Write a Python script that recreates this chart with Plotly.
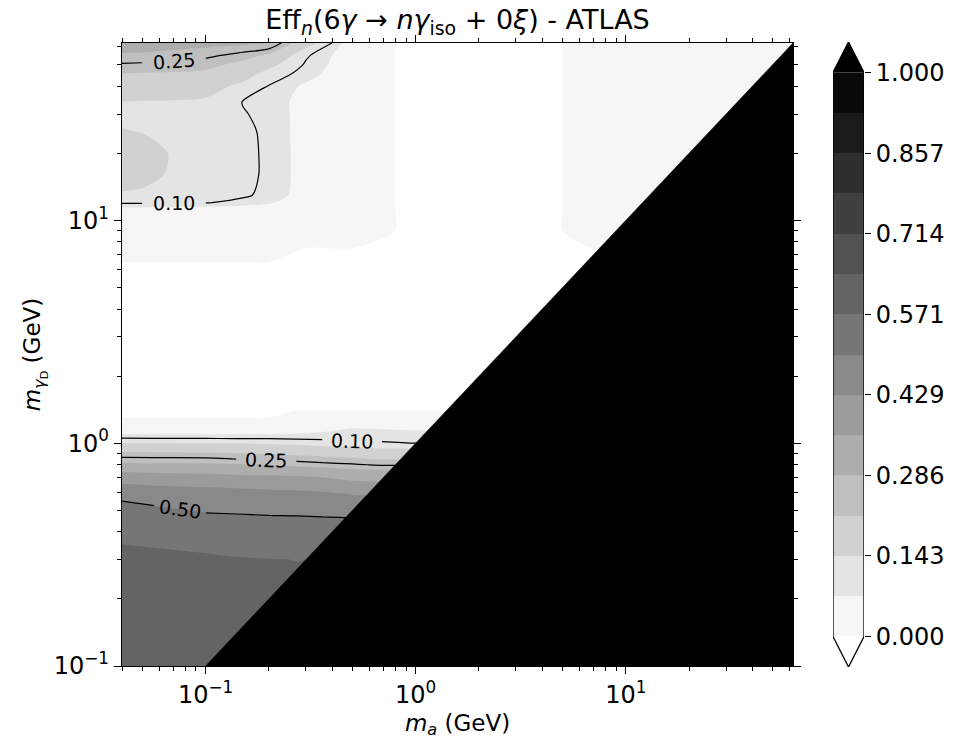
import math
import plotly.graph_objects as go

# ---------------- data ----------------
MA_LIMITS = [0.04, 62.5]      # m_a axis extent (GeV)
MGD_LIMITS = [0.1, 62.5]      # m_gammaD axis extent (GeV)
KIN_BOUNDARY = [0.1, 62.5]    # m_gammaD = m_a boundary (start, end)

LEVEL_START, LEVEL_END, N_BANDS = 0.0, 1.0, 14
LINE_LEVELS = [0.10, 0.25, 0.50]
CBAR_TICKS = [0.0, 0.143, 0.286, 0.429, 0.571, 0.714, 0.857, 1.0]

# low-mass region (m_gammaD <= 1.6 GeV)
MA_LOW = [0.04, 0.057, 0.1, 0.14, 0.2, 0.27, 0.36, 0.5, 0.69, 1.0, 2.0]
MGD_LOW = [0.1, 0.2, 0.3, 0.35, 0.4, 0.45, 0.5, 0.55, 0.6, 0.65, 0.7, 0.75,
           0.8, 0.85, 0.9, 0.95, 1.0, 1.05, 1.1, 1.2, 1.3, 1.4, 1.6]
# efficiency columns, one list per m_a value (ordered like MGD_LOW)
EFF_LOW_COLS = [
    [0.60, 0.60, 0.59, 0.572, 0.555, 0.535, 0.52, 0.50, 0.47, 0.435, 0.395, 0.35, 0.30, 0.26, 0.225, 0.19, 0.145, 0.102, 0.07, 0.03, 0, 0, 0],
    [0.60, 0.60, 0.585, 0.568, 0.55, 0.53, 0.51, 0.49, 0.46, 0.425, 0.385, 0.345, 0.295, 0.258, 0.222, 0.185, 0.142, 0.101, 0.07, 0.03, 0, 0, 0],
    [0.60, 0.595, 0.58, 0.56, 0.54, 0.515, 0.495, 0.475, 0.45, 0.42, 0.38, 0.34, 0.295, 0.257, 0.22, 0.183, 0.14, 0.10, 0.07, 0.03, 0, 0, 0],
    [0.60, 0.59, 0.575, 0.555, 0.535, 0.512, 0.493, 0.47, 0.445, 0.415, 0.375, 0.335, 0.29, 0.249, 0.215, 0.18, 0.14, 0.099, 0.07, 0.03, 0, 0, 0],
    [0.60, 0.585, 0.573, 0.55, 0.53, 0.51, 0.49, 0.465, 0.44, 0.41, 0.37, 0.33, 0.285, 0.245, 0.21, 0.178, 0.135, 0.098, 0.068, 0.03, 0, 0, 0],
    [0.60, 0.58, 0.571, 0.549, 0.529, 0.509, 0.489, 0.463, 0.438, 0.407, 0.367, 0.327, 0.272, 0.235, 0.203, 0.169, 0.128, 0.095, 0.073, 0.037, 0.005, 0, 0],
    [0.60, 0.585, 0.572, 0.55, 0.528, 0.507, 0.487, 0.46, 0.432, 0.398, 0.358, 0.318, 0.262, 0.228, 0.197, 0.16, 0.12, 0.094, 0.078, 0.048, 0.013, 0, 0],
    [0.60, 0.60, 0.575, 0.555, 0.53, 0.505, 0.485, 0.455, 0.42, 0.38, 0.34, 0.30, 0.255, 0.22, 0.19, 0.15, 0.11, 0.095, 0.085, 0.065, 0.02, 0, 0],
    [0.60, 0.60, 0.57, 0.55, 0.525, 0.50, 0.48, 0.45, 0.415, 0.375, 0.335, 0.295, 0.245, 0.21, 0.18, 0.14, 0.105, 0.09, 0.08, 0.065, 0.025, 0, 0],
    [0.60, 0.60, 0.57, 0.55, 0.525, 0.50, 0.48, 0.45, 0.415, 0.375, 0.335, 0.295, 0.245, 0.21, 0.18, 0.14, 0.10, 0.09, 0.08, 0.06, 0.02, 0, 0],
    [0.60, 0.60, 0.57, 0.55, 0.525, 0.50, 0.48, 0.45, 0.415, 0.375, 0.335, 0.295, 0.245, 0.21, 0.18, 0.14, 0.10, 0.09, 0.08, 0.06, 0.02, 0, 0],
]

# high-mass region (m_gammaD >= 1.6 GeV)
MA_HIGH = [0.04, 0.05, 0.1, 0.15, 0.2, 0.3, 0.5, 0.8, 5.0, 7.0, 10.0, 20.0, 62.5]
MGD_HIGH = [1.6, 5, 6.5, 7.5, 9, 11, 11.5, 12, 13, 16, 20, 25, 30, 34, 40, 45, 50, 55, 62.5]
EFF_HIGH_COLS = [
    [0, 0, 0, 0.025, 0.035, 0.05, 0.075, 0.105, 0.14, 0.155, 0.16, 0.145, 0.135, 0.142, 0.18, 0.21, 0.245, 0.28, 0.31],
    [0, 0, 0, 0.025, 0.035, 0.05, 0.075, 0.105, 0.138, 0.152, 0.155, 0.142, 0.132, 0.14, 0.178, 0.207, 0.243, 0.278, 0.308],
    [0, 0, 0, 0.025, 0.035, 0.05, 0.07, 0.102, 0.12, 0.125, 0.125, 0.125, 0.125, 0.135, 0.165, 0.20, 0.23, 0.26, 0.30],
    [0, 0, 0, 0.025, 0.035, 0.05, 0.065, 0.09, 0.106, 0.108, 0.108, 0.107, 0.102, 0.099, 0.13, 0.165, 0.20, 0.235, 0.295],
    [0, 0, 0, 0.025, 0.035, 0.05, 0.06, 0.075, 0.09, 0.095, 0.095, 0.094, 0.093, 0.092, 0.098, 0.12, 0.16, 0.205, 0.29],
    [0, 0, 0, 0, 0.025, 0.04, 0.045, 0.05, 0.055, 0.055, 0.055, 0.055, 0.055, 0.055, 0.065, 0.085, 0.095, 0.106, 0.17],
    [0, 0, 0, 0, 0.02, 0.035, 0.035, 0.04, 0.04, 0.04, 0.04, 0.04, 0.04, 0.04, 0.04, 0.04, 0.045, 0.045, 0.045],
    [0, 0, 0, 0, 0, 0, 0, 0, 0, 0, 0, 0, 0, 0, 0, 0, 0, 0, 0],
    [0, 0, 0, 0, 0, 0, 0, 0, 0, 0, 0, 0, 0, 0, 0, 0, 0, 0, 0],
    [0, 0, 0, 0, 0.03, 0.03, 0.03, 0.03, 0.03, 0.03, 0.03, 0.03, 0.03, 0.03, 0.03, 0.03, 0.03, 0.03, 0.03],
    [0, 0, 0, 0, 0.03, 0.03, 0.03, 0.03, 0.03, 0.03, 0.03, 0.03, 0.03, 0.03, 0.03, 0.03, 0.03, 0.03, 0.03],
    [0, 0, 0, 0, 0.03, 0.03, 0.03, 0.03, 0.03, 0.03, 0.03, 0.03, 0.03, 0.03, 0.03, 0.03, 0.03, 0.03, 0.03],
    [0, 0, 0, 0, 0.03, 0.03, 0.03, 0.03, 0.03, 0.03, 0.03, 0.03, 0.03, 0.03, 0.03, 0.03, 0.03, 0.03, 0.03],
]

# inline contour labels: (grid, level, m_a at gap start, m_a at gap end)
LINE_LABELS = [
    ("low", 0.50, 0.057, 0.1),
    ("low", 0.25, 0.14, 0.27),
    ("low", 0.10, 0.36, 0.69),
    ("high", 0.25, 0.05, 0.1),
    ("high", 0.10, 0.05, 0.1),
]

# ---------------- styling / layout constants ----------------
FONT = "DejaVu Sans"
TICK_SIZE = 24
W, H = 956, 742
ML, MR, MT, MB = 122, 92, 42, 75
PLOT_W, PLOT_H = W - ML - MR, H - MT - MB
AX_X_PX = (122, 793)
AX_Y_PX = (43, 666)
CB_X_PX = (833, 864)

BAND = (LEVEL_END - LEVEL_START) / N_BANDS
band_mid = [LEVEL_START + (k + 0.5) * BAND for k in range(N_BANDS)]
band_edges = [LEVEL_START + k * BAND for k in range(N_BANDS + 1)]


def grey(v):
    g = max(0, min(255, round(255 * (1 - v))))
    return f"rgb({g},{g},{g})"


COLORSCALE = ([[0.0, grey(0.0)]]
              + [[(k + 1) / (N_BANDS + 1), grey(m)] for k, m in enumerate(band_mid)]
              + [[1.0, grey(1.0)]])


def rows_from_cols(cols):
    return [list(r) for r in zip(*cols)]


GRIDS = {
    "low": (MA_LOW, MGD_LOW, EFF_LOW_COLS),
    "high": (MA_HIGH, MGD_HIGH, EFF_HIGH_COLS),
}

fig = go.Figure()

# filled bands
for key in ("low", "high"):
    xs, ys, cols = GRIDS[key]
    fig.add_trace(go.Contour(
        x=xs, y=ys, z=rows_from_cols(cols), autocontour=False,
        contours=dict(start=LEVEL_START, end=LEVEL_END, size=BAND,
                      coloring="fill", showlines=False),
        colorscale=COLORSCALE, showscale=False,
        line=dict(width=0, smoothing=0.8), hoverinfo="skip"))


def line_piece(xs, ys, cols, level):
    return go.Contour(
        x=xs, y=ys, z=rows_from_cols(cols), autocontour=False,
        contours=dict(start=level, end=level, size=1, coloring="none"),
        line=dict(color="black", width=1.2, smoothing=0.8),
        showscale=False, hoverinfo="skip")


def crossing(ys, vals, level):
    for j in range(len(ys) - 1):
        a, b = vals[j], vals[j + 1]
        if (a - level) * (b - level) <= 0 and a != b:
            t = (level - a) / (b - a)
            return ys[j] + t * (ys[j + 1] - ys[j])
    return ys[0]


log_span_x = math.log10(MA_LIMITS[1]) - math.log10(MA_LIMITS[0])
log_span_y = math.log10(MGD_LIMITS[1]) - math.log10(MGD_LIMITS[0])
px_dec_x = (AX_X_PX[1] - AX_X_PX[0]) / log_span_x
px_dec_y = (AX_Y_PX[1] - AX_Y_PX[0]) / log_span_y

annotations = []
for key, level, g0, g1 in LINE_LABELS:
    xs, ys, cols = GRIDS[key]
    i0, i1 = xs.index(g0), xs.index(g1)
    fig.add_trace(line_piece(xs[:i0 + 1], ys, cols[:i0 + 1], level))
    fig.add_trace(line_piece(xs[i1:], ys, cols[i1:], level))
    y0 = crossing(ys, cols[i0], level)
    y1 = crossing(ys, cols[i1], level)
    lx = (math.log10(g0) + math.log10(g1)) / 2
    ly = (math.log10(y0) + math.log10(y1)) / 2
    dx = (math.log10(g1) - math.log10(g0)) * px_dec_x
    dy = (math.log10(y1) - math.log10(y0)) * px_dec_y
    ang = -math.degrees(math.atan2(dy, dx))
    annotations.append(dict(
        x=lx, y=ly, xref="x", yref="y", text=f"{level:.2f}", showarrow=False,
        textangle=ang, font=dict(family=FONT, size=19, color="black"),
        xanchor="center", yanchor="middle"))

# kinematically excluded triangle (black)
fig.add_trace(go.Scatter(
    x=[KIN_BOUNDARY[0], KIN_BOUNDARY[1], MA_LIMITS[1], KIN_BOUNDARY[0]],
    y=[KIN_BOUNDARY[0], KIN_BOUNDARY[1], MGD_LIMITS[0], KIN_BOUNDARY[0]],
    mode="lines", fill="toself", fillcolor="black",
    line=dict(color="black", width=0.5), hoverinfo="skip", showlegend=False))

# ---------------- manual colourbar ----------------
CB_LEN = (AX_Y_PX[1] - 29) - (AX_Y_PX[0] + 30)
EXT = ((PLOT_H / CB_LEN) - 1) / 2
fig.add_trace(go.Heatmap(
    x=[0, 1], y=band_edges, z=[[m] for m in band_mid],
    colorscale=COLORSCALE, zmin=LEVEL_START - BAND / 2, zmax=LEVEL_END + BAND / 2,
    showscale=False, xaxis="x2", yaxis="y2", hoverinfo="skip"))
fig.add_trace(go.Scatter(
    x=[0, 0.5, 1, 0], y=[LEVEL_END, LEVEL_END + EXT, LEVEL_END, LEVEL_END],
    mode="lines", fill="toself", fillcolor=grey(1.0), line=dict(width=0),
    xaxis="x2", yaxis="y2", hoverinfo="skip", showlegend=False))
fig.add_trace(go.Scatter(
    x=[0, 0, 0.5, 1, 1, 0.5, 0],
    y=[LEVEL_START, LEVEL_END, LEVEL_END + EXT, LEVEL_END, LEVEL_START,
       LEVEL_START - EXT, LEVEL_START],
    mode="lines", line=dict(color="black", width=1.3),
    xaxis="x2", yaxis="y2", hoverinfo="skip", showlegend=False))


# ---------------- axes ----------------
def decade_minor(lo, hi):
    vals = []
    for e in range(math.floor(math.log10(lo)), math.ceil(math.log10(hi)) + 1):
        for m in range(2, 10):
            v = m * 10 ** e
            if lo <= v <= hi:
                vals.append(v)
    return vals


MAJOR = [0.1, 1, 10]
MAJOR_TXT = ["10<sup>\u22121</sup>", "10<sup>0</sup>", "10<sup>1</sup>"]

axis_common = dict(
    type="log", tickvals=MAJOR, ticktext=MAJOR_TXT, ticks="outside",
    ticklen=7, tickwidth=1.2, tickcolor="black", showline=True,
    linecolor="black", linewidth=1.3, mirror="allticks", showgrid=False,
    zeroline=False, tickfont=dict(family=FONT, size=TICK_SIZE, color="black"))

X_END = (AX_X_PX[1] - ML) / PLOT_W
fig.update_layout(
    width=W, height=H,
    margin=dict(l=ML, r=MR, t=MT, b=MB),
    paper_bgcolor="white", plot_bgcolor="white",
    showlegend=False,
    font=dict(family=FONT, color="black"),
    annotations=annotations,
    title=dict(
        text="Eff<sub><i>n</i></sub>(6<i>\u03b3</i> \u2192 <i>n\u03b3</i><sub>iso</sub> + 0<i>\u03be</i>) - ATLAS",
        x=X_END / 2, xref="paper", xanchor="center",
        y=1 - 20 / H, yref="container", yanchor="middle",
        font=dict(family=FONT, size=27, color="black")),
    xaxis=dict(
        axis_common, domain=[0, X_END],
        range=[math.log10(MA_LIMITS[0]), math.log10(MA_LIMITS[1])],
        minor=dict(tickvals=decade_minor(*MA_LIMITS), ticks="outside",
                   ticklen=4, tickwidth=1, tickcolor="black"),
        title=dict(text="<i>m</i><sub><i>a</i></sub> (GeV)", standoff=6,
                   font=dict(family=FONT, size=23, color="black"))),
    yaxis=dict(
        axis_common,
        domain=[(H - MB - AX_Y_PX[1]) / PLOT_H, (H - MB - AX_Y_PX[0]) / PLOT_H],
        range=[math.log10(MGD_LIMITS[0]), math.log10(MGD_LIMITS[1])],
        minor=dict(tickvals=decade_minor(*MGD_LIMITS), ticks="outside",
                   ticklen=4, tickwidth=1, tickcolor="black"),
        title=dict(text="<i>m</i><sub><i>\u03b3</i><sub>D</sub></sub> (GeV)", standoff=6,
                   font=dict(family=FONT, size=23, color="black"))),
    xaxis2=dict(domain=[(CB_X_PX[0] - ML) / PLOT_W, (CB_X_PX[1] - ML) / PLOT_W],
                range=[0, 1], visible=False, anchor="y2", fixedrange=True),
    yaxis2=dict(domain=[0, 1], range=[LEVEL_START - EXT, LEVEL_END + EXT],
                anchor="x2", side="right", tickvals=CBAR_TICKS,
                ticktext=[f"{v:.3f}" for v in CBAR_TICKS], ticks="outside",
                ticklen=6, tickwidth=1.2, tickcolor="black", showline=False,
                showgrid=False, zeroline=False,
                tickfont=dict(family=FONT, size=TICK_SIZE, color="black")),
)

fig.write_html("out.html")
